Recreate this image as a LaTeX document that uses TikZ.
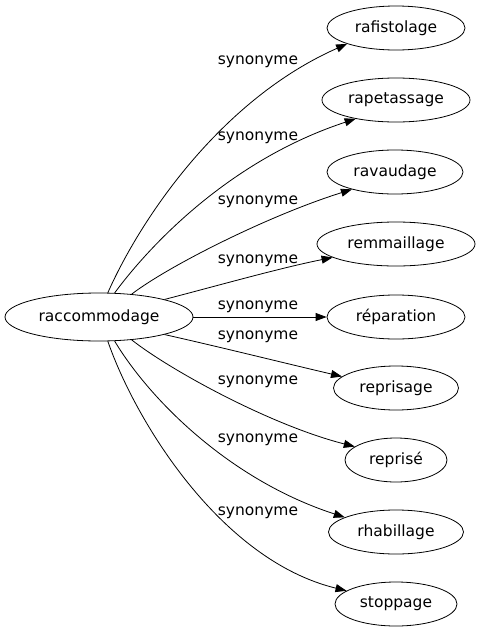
\documentclass[tikz,border=0pt]{standalone}
\usepackage{fontspec}
\setmainfont{DejaVu Sans}
\usetikzlibrary{shapes.geometric,arrows.meta}
\begin{document}
\begin{tikzpicture}[x=1pt,y=-1pt,
  word/.style={draw, ellipse, inner sep=0pt, minimum height=44pt, line width=0.8pt, font=\fontsize{15.5}{18}\selectfont},
  lab/.style={inner sep=0pt, font=\fontsize{15.5}{18}\selectfont},
  link/.style={draw, line width=0.8pt, -{Triangle[length=11pt,width=8pt]}}]
\useasboundingbox (0,0) rectangle (480,635);
\node[word, minimum width=188pt, minimum height=48pt] (src) at (99,317) {raccommodage};
\node[word, minimum width=138pt] (t1) at (396,28) {rafistolage};
\node[word, minimum width=148pt] (t2) at (396,100) {rapetassage};
\node[word, minimum width=136pt] (t3) at (395,172) {ravaudage};
\node[word, minimum width=158pt] (t4) at (396,244) {remmaillage};
\node[word, minimum width=138pt] (t5) at (396,317) {réparation};
\node[word, minimum width=125pt] (t6) at (396,388) {reprisage};
\node[word, minimum width=102pt] (t7) at (396,460) {reprisé};
\node[word, minimum width=135pt] (t8) at (396,532) {rhabillage};
\node[word, minimum width=122pt] (t9) at (396,604) {stoppage};
\draw[link] (src.70) .. controls (140,220) and (220,100) .. (t1.198);
\draw[link] (src.57) .. controls (150,245) and (230,160) .. (t2.205);
\draw[link] (src.35) .. controls (170,265) and (270,215) .. (t3.202);
\draw[link] (src.15) .. controls (220,285) and (280,268) .. (t4.192);
\draw[link] (src.0) -- (t5.180);
\draw[link] (src.-15) .. controls (220,347) and (280,362) .. (t6.168);
\draw[link] (src.-35) .. controls (170,370) and (270,425) .. (t7.162);
\draw[link] (src.-57) .. controls (150,400) and (230,480) .. (t8.164);
\draw[link] (src.-70) .. controls (135,420) and (220,560) .. (t9.165);
\node[lab] (l1) at (258,62) {synonyme};
\node[lab] (l2) at (258,138) {synonyme};
\node[lab] (l3) at (258,202) {synonyme};
\node[lab] (l4) at (258,261) {synonyme};
\node[lab] (l5) at (258,307) {synonyme};
\node[lab] (l6) at (258,337) {synonyme};
\node[lab] (l7) at (258,382) {synonyme};
\node[lab] (l8) at (258,440) {synonyme};
\node[lab] (l9) at (258,513) {synonyme};
\end{tikzpicture}
\end{document}
